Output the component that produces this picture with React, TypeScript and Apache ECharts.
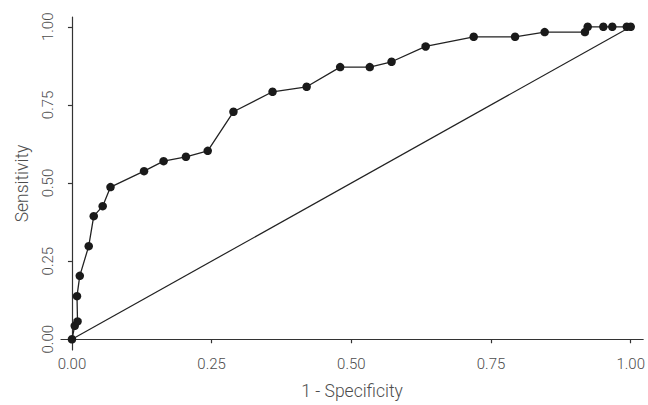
import React, { useEffect, useRef } from "react";
import * as echarts from "echarts";

const fpr = [0, 0.005, 0.01, 0.009, 0.014, 0.03, 0.039, 0.055, 0.069, 0.129, 0.164, 0.204, 0.243, 0.289, 0.359, 0.42, 0.48, 0.533, 0.572, 0.633, 0.719, 0.793, 0.846, 0.918, 0.923, 0.951, 0.967, 0.993, 1.0];
const tpr = [0, 0.043, 0.057, 0.138, 0.203, 0.298, 0.394, 0.426, 0.487, 0.538, 0.57, 0.584, 0.603, 0.728, 0.792, 0.808, 0.871, 0.871, 0.888, 0.937, 0.968, 0.968, 0.983, 0.983, 1.0, 1.0, 1.0, 1.0, 1.0];
const refX = [0, 1];
const refY = [0, 1];
const tickValues = [0, 0.25, 0.5, 0.75, 1];
const xTitle = "1 - Specificity";
const yTitle = "Sensitivity";

const FONT = "Roboto";
const TEXT = "#4d4d4d";
const AXIS = "#333333";

export default function App() {
  const ref = useRef<HTMLDivElement>(null);
  useEffect(() => {
    if (!ref.current) return;
    const chart = echarts.init(ref.current, undefined, { renderer: "svg" });
    const axisCommon = {
      type: "value" as const,
      splitLine: { show: false },
      axisLine: { show: true, lineStyle: { color: AXIS, width: 1.2 } },
      axisTick: { show: true, length: 4, customValues: tickValues, lineStyle: { color: AXIS, width: 1.2 } },
      nameLocation: "middle" as const,
      nameTextStyle: { fontFamily: FONT, fontWeight: 300, fontSize: 17.5, color: TEXT },
    };
    const labelCommon = {
      customValues: tickValues,
      formatter: (v: number) => v.toFixed(2),
      fontFamily: FONT,
      fontWeight: 300,
      fontSize: 15,
      color: TEXT,
      margin: 6,
    };
    chart.setOption({
      animation: false,
      grid: { left: 61, right: 1, top: 17, bottom: 47, containLabel: false },
      xAxis: {
        ...axisCommon,
        min: -0.0196,
        max: 1.0223,
        name: xTitle,
        nameGap: 32,
        axisLabel: { ...labelCommon },
      },
      yAxis: {
        ...axisCommon,
        min: -0.0344,
        max: 1.0313,
        name: yTitle,
        nameGap: 30,
        axisLabel: { ...labelCommon, rotate: 90 },
      },
      series: [
        {
          type: "line",
          data: refX.map((x, i) => [x, refY[i]]),
          showSymbol: false,
          symbol: "none",
          lineStyle: { color: "#222222", width: 1.2 },
          silent: true,
        },
        {
          type: "line",
          data: fpr.map((x, i) => [x, tpr[i]]),
          symbol: "circle",
          symbolSize: 8.5,
          itemStyle: { color: "#1a1a1a" },
          lineStyle: { color: "#222222", width: 1.3 },
        },
      ],
    });
    return () => chart.dispose();
  }, []);
  return <div ref={ref} style={{ width: 648, height: 405, position: "absolute", left: 0, top: 0 }} />;
}
